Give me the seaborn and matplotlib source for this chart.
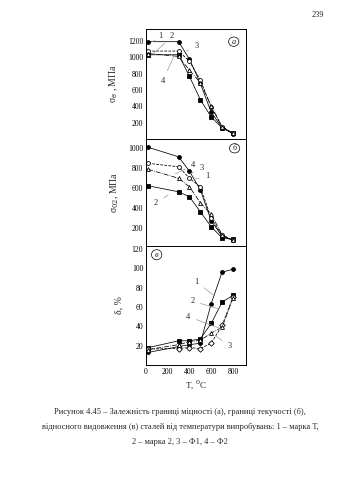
import matplotlib
matplotlib.use("Agg")
import matplotlib.pyplot as plt
from matplotlib.patches import Ellipse
import seaborn as sns
import pandas as pd

sns.set_theme(style="white")
plt.rcParams['font.family'] = ['Liberation Serif', 'DejaVu Serif']
plt.rcParams['mathtext.fontset'] = 'dejavuserif'

# ---------------- data ----------------
temps = [20, 300, 400, 500, 600, 700, 800]
series_names = ["1", "2", "3", "4"]

# (a) ultimate strength, MPa
sb_1 = [1190, 1190, 975, 680, 325, 140, 65]
sb_2 = [1030, 1030, 765, 480, 270, 135, 70]
sb_3 = [1075, 1075, 950, 720, 390, 150, 70]
sb_4 = [1045, 1010, 840, 690, 405, 150, 70]

# (b) yield strength, MPa
s02_1 = [1010, 915, 770, 585, 275, 120, 80]
s02_2 = [625, 565, 515, 365, 215, 105, 90]
s02_3 = [850, 815, 700, 615, 300, 130, 80]
s02_4 = [790, 700, 615, 455, 340, 135, 80]

# (c) elongation, %
d_1 = [13, 19, 21, 22.5, 63.5, 96, 99]
d_2 = [18, 25, 25, 27, 43, 65, 72]
d_3 = [16.5, 17, 18, 17, 22.5, 41, 70]
d_4 = [16, 21, 24, 25.5, 33, 39, 69]

y_ticks_a = [200, 400, 600, 800, 1000, 1200]
y_ticks_b = [200, 400, 600, 800, 1000]
y_ticks_c = [20, 40, 60, 80, 100, 120]
x_ticks = [0, 200, 400, 600, 800]

caption = ["Рисунок 4.45 – Залежність границі міцності (а), границі текучості (б),",
           "відносного видовження (в) сталей від температури випробувань: 1 – марка Т,",
           "2 – марка 2, 3 – Ф1, 4 – Ф2"]

def frame(vals):
    rows = []
    for name, v in zip(series_names, vals):
        for t, y in zip(temps, v):
            rows.append({"T": t, "val": y, "s": name})
    return pd.DataFrame(rows)

df_a = frame([sb_1, sb_2, sb_3, sb_4])
df_b = frame([s02_1, s02_2, s02_3, s02_4])
df_c = frame([d_1, d_2, d_3, d_4])

W, H = 339, 480
fig = plt.figure(figsize=(W / 100, H / 100), dpi=100)
fig.patch.set_facecolor("white")

def ax_at(l, t, r, b):
    return fig.add_axes([l / W, 1 - b / H, (r - l) / W, (b - t) / H])

ax_a = ax_at(146, 29, 246, 139)
ax_b = ax_at(146, 139, 246, 246)
ax_c = ax_at(146, 246, 246, 365)

styles = {"1": dict(marker="o", mfc="black", ls="-"),
          "2": dict(marker="s", mfc="black", ls="-"),
          "3": dict(marker="o", mfc="white", ls="--"),
          "4": dict(marker="^", mfc="white", ls="-.")}

def draw(ax, df, third_marker="o"):
    for name in series_names:
        st = dict(styles[name])
        if name == "3":
            st["marker"] = third_marker
        sub = df[df.s == name]
        sns.lineplot(data=sub, x="T", y="val", ax=ax, color="black", lw=0.55,
                     linestyle=st["ls"], marker=st["marker"], markersize=2.8,
                     markerfacecolor=st["mfc"], markeredgecolor="black",
                     markeredgewidth=0.6, legend=False, estimator=None, sort=False)
    ax.set_xlim(0, 920)
    ax.set_xlabel("")
    for s in ax.spines.values():
        s.set_color("black")
        s.set_linewidth(0.7)
    ax.set_xticks(range(0, 901, 100))
    ax.tick_params(axis="both", direction="in", length=2, width=0.5,
                   labelsize=5.5, pad=2, colors="black")

draw(ax_a, df_a)
draw(ax_b, df_b)
draw(ax_c, df_c, third_marker="D")

ax_a.set_ylim(0, 1345)
ax_a.set_yticks(y_ticks_a)
ax_b.set_ylim(23, 1093)
ax_b.set_yticks(y_ticks_b)
ax_c.set_ylim(0, 123)
ax_c.set_yticks(y_ticks_c)

for ax in (ax_a, ax_b):
    ax.set_xticklabels([])
ax_c.set_xticklabels([str(v) if v in x_ticks else "" for v in range(0, 901, 100)])

ax_a.set_ylabel("σ$_в$ , МПа", fontsize=7, labelpad=6)
ax_b.set_ylabel("σ$_{02}$, МПа", fontsize=7, labelpad=5)
ax_c.set_ylabel("δ, %", fontsize=7, labelpad=6)
ax_c.set_xlabel("T, $^0$C", fontsize=6.5, labelpad=2)

def lab(ax, txt, tx, ty, px, py):
    ax.annotate(txt, xy=(px, py), xytext=(tx, ty), fontsize=6,
                ha="center", va="center",
                arrowprops=dict(arrowstyle="-", color="#999999", lw=0.5,
                                shrinkA=2, shrinkB=0))

lab(ax_a, "1", 130, 1255, 60, 1190)
lab(ax_a, "2", 240, 1255, 70, 1045)
lab(ax_a, "3", 465, 1135, 375, 1078)
lab(ax_a, "4", 155, 715, 255, 1005)

lab(ax_b, "4", 435, 830, 270, 745)
lab(ax_b, "3", 510, 805, 400, 740)
lab(ax_b, "1", 565, 720, 440, 690)
lab(ax_b, "2", 90, 450, 205, 535)

lab(ax_c, "1", 465, 86, 622, 72)
lab(ax_c, "2", 428, 66, 669, 58)
lab(ax_c, "4", 390, 50, 700, 37)
lab(ax_c, "3", 772, 20, 640, 30)

def circ(ax, letter, x, y):
    ax.text(x, y, letter, fontsize=6, style="italic", ha="center", va="center")
    ax.add_patch(Ellipse((x, y), 95, ax.get_ylim()[1] * 0.085, transform=ax.transData,
                         fill=False, lw=0.5, color="black"))

circ(ax_a, "а", 807, 1190)
circ(ax_b, "б", 815, 1000)
circ(ax_c, "в", 98, 114)

fig.text(318 / W, 1 - 15 / H, "239", fontsize=6, ha="center", va="center")
for i, line in enumerate(caption):
    fig.text(180 / W, 1 - (412 + i * 15) / H, line, fontsize=6.0, ha="center", va="center")

fig.savefig("out.png", dpi=100)
